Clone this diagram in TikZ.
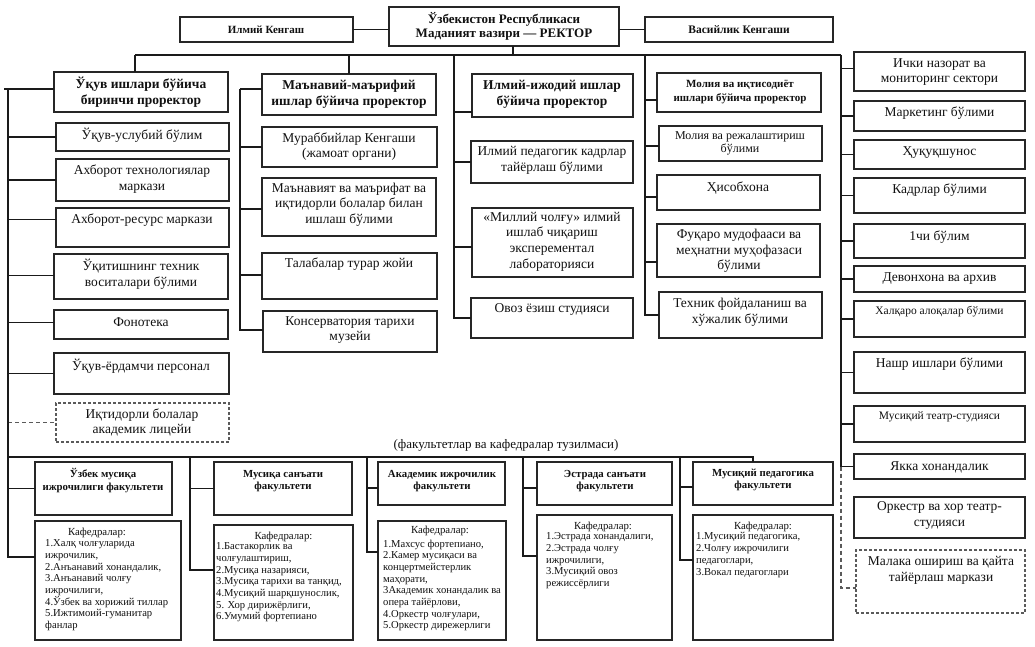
\documentclass[tikz,border=0pt]{standalone}
\usepackage{fontspec}
\setmainfont{Liberation Serif}
\usetikzlibrary{calc}
\definecolor{boxc}{HTML}{262626}
\definecolor{linec}{HTML}{1A1A1A}
\definecolor{dashc}{HTML}{5A5A5A}
\definecolor{txtc}{HTML}{111111}
\newcommand\mkbox[6][box]{\node[#1, minimum width={#4-#2}, minimum height={#5-#3}] (#6) at ({(#2+#4)/2},{(#3+#5)/2}) {};}
\newcommand\tickto[3]{\draw[conn] ([yshift=#3]#1.west) -- ([yshift=#3]#1.west -| #2);}
\tikzset{
  box/.style={draw=boxc, line width=1.5pt, rectangle, inner sep=0pt, outer sep=0pt},
  dbox/.style={box, draw=dashc, line width=1.2pt, dash pattern=on 3pt off 2pt},
  conn/.style={draw=linec, line width=1.2pt},
  dconn/.style={draw=dashc, line width=1.1pt, dash pattern=on 4pt off 3pt},
  tx/.style={align=center, inner sep=0pt, text=txtc, font=\fontsize{13.5}{15.6}\selectfont},
  st/.style={tx, font=\fontsize{11.5}{13.5}\selectfont},
  hb/.style={tx, font=\fontsize{13.5}{16.5}\selectfont\bfseries},
  sb/.style={tx, font=\fontsize{11}{14}\selectfont\bfseries},
  fb/.style={tx, font=\fontsize{10.8}{12.5}\selectfont\bfseries},
  kt/.style={align=left, inner sep=0pt, text=txtc, anchor=north west, font=\fontsize{10.6}{11.7}\selectfont},
  kh/.style={tx, font=\fontsize{10.8}{11.7}\selectfont},
}
\begin{document}
\begin{tikzpicture}[x=1pt,y=-1pt]
\useasboundingbox (0,0) rectangle (1035,647);
\fill[white] (0,0) rectangle (1035,647);

% ---------- top row ----------
\mkbox{180}{17}{353}{42}{ik}
\mkbox{389}{7}{619}{46}{rec}
\mkbox{645}{17}{833}{42}{vk}
\node[sb] (tik) at (266,29.5) {Илмий Кенгаш};
\node[hb, font=\fontsize{13}{14.5}\selectfont\bfseries] (trec) at (504,26.5) {Ўзбекистон Республикаси\\Маданият вазири — РЕКТОР};
\node[sb, font=\fontsize{11.5}{14}\selectfont\bfseries] (tvk) at (739,29.5) {Васийлик Кенгаши};
\draw[conn] (ik.east) -- (ik.east -| rec.west);
\draw[conn] (vk.west -| rec.east) -- (vk.west);

% ---------- column 1 ----------
\mkbox{54}{72}{228}{112}{h1}
\mkbox{56}{123}{229}{151}{a1}
\mkbox{56}{159}{229}{201}{a2}
\mkbox{56}{208}{229}{247}{a3}
\mkbox{54}{254}{228}{299}{a4}
\mkbox{54}{310}{228}{339}{a5}
\mkbox{54}{353}{229}{394}{a6}
\mkbox[dbox]{56}{403}{229}{442}{a7}
\node[hb] (th1) at (141,92) {Ўқув ишлари бўйича\\биринчи проректор};
\node[tx] (ta1) at (142,135.5) {Ўқув-услубий бўлим};
\node[tx] (ta2) at (142,179) {Ахборот технологиялар\\маркази};
\node[tx] (ta3) at (142,220) {Ахборот-ресурс маркази};
\node[tx] (ta4) at (141,274.5) {Ўқитишнинг техник\\воситалари бўлими};
\node[tx] (ta5) at (141,322) {Фонотека};
\node[tx] (ta6) at (141,366) {Ўқув-ёрдамчи персонал};
\node[tx] (ta7) at (142,422.5) {Иқтидорли болалар\\академик лицейи};

% ---------- column 2 ----------
\mkbox{262}{74}{436}{115}{h2}
\mkbox{262}{127}{437}{167}{b1}
\mkbox{262}{178}{436}{236}{b2}
\mkbox{262}{253}{437}{299}{b3}
\mkbox{263}{311}{437}{352}{b4}
\node[hb] (th2) at (349,94.5) {Маънавий-маърифий\\ишлар бўйича проректор};
\node[tx] (tb1) at (349,146.5) {Мураббийлар Кенгаши\\(жамоат органи)};
\node[tx] (tb2) at (349,204.5) {Маънавият ва маърифат ва\\иқтидорли болалар билан\\ишлаш бўлими};
\node[tx] (tb3) at (349,264) {Талабалар турар жойи};
\node[tx] (tb4) at (350,330) {Консерватория тарихи\\музейи};

% ---------- column 3 ----------
\mkbox{472}{74}{633}{117}{h3}
\mkbox{471}{141}{633}{183}{c1}
\mkbox{472}{208}{633}{277}{c2}
\mkbox{471}{298}{633}{338}{c3}
\node[hb] (th3) at (552,94.5) {Илмий-ижодий ишлар\\бўйича проректор};
\node[tx] (tc1) at (552,160.5) {Илмий педагогик кадрлар\\тайёрлаш бўлими};
\node[tx] (tc2) at (552,241.5) {«Миллий чолғу» илмий\\ишлаб чиқариш\\эксперементал\\лабораторияси};
\node[tx] (tc3) at (552,309) {Овоз ёзиш студияси};

% ---------- column 4 ----------
\mkbox{657}{73}{821}{112}{h4}
\mkbox{659}{126}{822}{161}{d1}
\mkbox{657}{175}{820}{210}{d2}
\mkbox{657}{224}{820}{277}{d3}
\mkbox{659}{292}{822}{338}{d4}
\node[sb] (th4) at (740,92) {Молия ва иқтисодиёт\\ишлари бўйича проректор};
\node[st, font=\fontsize{12}{13.5}\selectfont] (td1) at (740,143.5) {Молия ва режалаштириш\\бўлими};
\node[tx] (td2) at (738,188) {Ҳисобхона};
\node[tx] (td3) at (739,251) {Фуқаро мудофааси ва\\меҳнатни муҳофазаси\\бўлими};
\node[tx] (td4) at (740,312.5) {Техник фойдаланиш ва\\хўжалик бўлими};

% ---------- right column ----------
\mkbox{854}{52}{1025}{91}{r1}
\mkbox{854}{101}{1025}{131}{r2}
\mkbox{854}{140}{1025}{169}{r3}
\mkbox{854}{178}{1025}{213}{r4}
\mkbox{854}{224}{1025}{258}{r5}
\mkbox{854}{266}{1025}{292}{r6}
\mkbox{854}{301}{1025}{337}{r7}
\mkbox{854}{352}{1025}{393}{r8}
\mkbox{854}{406}{1025}{442}{r9}
\mkbox{854}{454}{1025}{479}{r10}
\mkbox{854}{497}{1025}{538}{r11}
\mkbox[dbox]{856}{550}{1025}{613}{r12}
\node[tx] (tr1) at (939.5,72) {Ички назорат ва\\мониторинг сектори};
\node[tx] (tr2) at (939.5,113) {Маркетинг бўлими};
\node[tx] (tr3) at (939.5,153) {Ҳуқуқшунос};
\node[tx] (tr4) at (939.5,190) {Кадрлар бўлими};
\node[tx] (tr5) at (939.5,237) {1чи бўлим};
\node[tx] (tr6) at (939.5,279) {Девонхона ва архив};
\node[st] (tr7) at (939.5,312) {Халқаро алоқалар бўлими};
\node[tx] (tr8) at (939.5,364) {Нашр ишлари бўлими};
\node[st] (tr9) at (939.5,417) {Мусиқий театр-студияси};
\node[tx] (tr10) at (939.5,467) {Якка хонандалик};
\node[tx] (tr11) at (939.5,515.5) {Оркестр ва хор театр-\\студияси};
\node[tx] (tr12) at (941,570.5) {Малака ошириш ва қайта\\тайёрлаш маркази};

% ---------- top bus ----------
\coordinate (busL) at (135,55);
\coordinate (busR) at (841,55);
\coordinate (recJ) at (513,55);
\coordinate (C3) at (454,55);
\coordinate (C4) at (645,55);
\draw[conn] (busL) -- (busR);
\draw[conn] (rec.south -| recJ) -- (recJ);
\draw[conn] (busL) -- (h1.north -| busL);
\draw[conn] (h2.north |- busL) -- (h2.north);

% column 1 spine
\coordinate (L) at (8,89);
\draw[conn] (4,89) -- (h1.west |- L);
\tickto{a1}{L}{0pt}
\tickto{a2}{L}{0pt}
\tickto{a3}{L}{8pt}
\tickto{a4}{L}{1pt}
\tickto{a5}{L}{2pt}
\tickto{a6}{L}{0pt}
\draw[dconn] (a7.west -| L) -- (a7.west);

% column 2 spine
\coordinate (M) at (240,89);
\draw[conn] (M) -- (h2.west |- M);
\draw[conn] (M) |- ([yshift=1.5pt]b4.west);
\tickto{b1}{M}{0pt}
\tickto{b2}{M}{-2pt}
\tickto{b3}{M}{1pt}

% column 3 spine
\draw[conn] (C3) |- (c3.west);
\tickto{h3}{C3}{-16.5pt}
\tickto{c1}{C3}{0pt}
\tickto{c2}{C3}{-4.5pt}

% column 4 spine
\draw[conn] (C4) |- (d4.west);
\tickto{h4}{C4}{-7.5pt}
\tickto{d1}{C4}{-2.5pt}
\tickto{d2}{C4}{-4.5pt}
\tickto{d3}{C4}{-11.5pt}

% right spine
\draw[conn] (busR) -- (busR |- r10.west);
\tickto{r1}{busR}{3pt}
\tickto{r2}{busR}{0pt}
\tickto{r3}{busR}{0pt}
\tickto{r4}{busR}{0pt}
\tickto{r5}{busR}{0pt}
\tickto{r6}{busR}{0pt}
\tickto{r7}{busR}{0pt}
\tickto{r8}{busR}{0pt}
\tickto{r9}{busR}{0pt}
\tickto{r10}{busR}{0pt}
\draw[dconn] (busR |- r10.west) |- ([yshift=-6.5pt]r12.west);

% ---------- faculties ----------
\node[tx, font=\fontsize{13}{15}\selectfont] (tfk) at (506,445) {(факультетлар ва кафедралар тузилмаси)};

\mkbox{35}{462}{172}{515}{f1}
\mkbox{35}{521}{181}{640}{k1}
\mkbox{214}{462}{352}{515}{f2}
\mkbox{214}{525}{353}{640}{k2}
\mkbox{378}{462}{505}{505}{f3}
\mkbox{378}{521}{506}{640}{k3}
\mkbox{537}{462}{672}{505}{f4}
\mkbox{537}{515}{672}{640}{k4}
\mkbox{693}{462}{833}{505}{f5}
\mkbox{693}{515}{833}{640}{k5}

\node[fb] (tf1) at (103,480.5) {Ўзбек мусиқа\\ижрочилиги факультети};
\node[fb] (tf2) at (283,481) {Мусиқа санъати\\факультети};
\node[fb] (tf3) at (442,481) {Академик ижрочилик\\факультети};
\node[fb] (tf4) at (605,481) {Эстрада санъати\\факультети};
\node[fb] (tf5) at (763,480) {Мусиқий педагогика\\факультети};

\node[kh] (kh1) at (97,533) {Кафедралар:};
\node[kt] (kl1) at (45,539.5) {1.Халқ чолғуларида\\ижрочилик,\\2.Анъанавий хонандалик,\\3.Анъанавий чолғу\\ижрочилиги,\\4.Ўзбек ва хорижий тиллар\\5.Ижтимоий-гуманитар\\фанлар};
\node[kh] (kh2) at (283.5,537) {Кафедралар:};
\node[kt] (kl2) at (216,542.5) {1.Бастакорлик ва\\чолғулаштириш,\\2.Мусиқа назарияси,\\3.Мусиқа тарихи ва танқид,\\4.Мусиқий шарқшунослик,\\5. Хор дирижёрлиги,\\6.Умумий фортепиано};
\node[kh] (kh3) at (440,531) {Кафедралар:};
\node[kt] (kl3) at (383,539.5) {1.Махсус фортепиано,\\2.Камер мусиқаси ва\\концертмейстерлик\\маҳорати,\\3Академик хонандалик ва\\опера тайёрлови,\\4.Оркестр чолғулари,\\5.Оркестр дирежерлиги};
\node[kh] (kh4) at (603,527) {Кафедралар:};
\node[kt] (kl4) at (546,532.5) {1.Эстрада хонандалиги,\\2.Эстрада чолғу\\ижрочилиги,\\3.Мусиқий овоз\\режиссёрлиги};
\node[kh] (kh5) at (763,527) {Кафедралар:};
\node[kt] (kl5) at (696,532.5) {1.Мусиқий педагогика,\\2.Чолғу ижрочилиги\\педагоглари,\\3.Вокал педагоглари};

% bottom bus and faculty spines
\coordinate (B0) at (8,457);
\coordinate (B5) at (753,457);
\coordinate (F2) at (190,457);
\coordinate (F3) at (367,457);
\coordinate (F4) at (523,457);
\coordinate (F5) at (680,457);
\draw[conn] (L) |- ([yshift=23.5pt]k1.west);
\draw[conn] (B0) -- (B5) -- (B5 |- f5.north);
\tickto{f1}{L}{0pt}
\draw[conn] (F2) |- ([yshift=12.5pt]k2.west);
\tickto{f2}{F2}{0pt}
\draw[conn] (F3) |- ([yshift=28.5pt]k3.west);
\tickto{f3}{F3}{-4.5pt}
\draw[conn] (F4) |- ([yshift=21.5pt]k4.west);
\tickto{f4}{F4}{-4.5pt}
\draw[conn] (F5) |- ([yshift=17.5pt]k5.west);
\tickto{f5}{F5}{-3.5pt}
\end{tikzpicture}
\end{document}
